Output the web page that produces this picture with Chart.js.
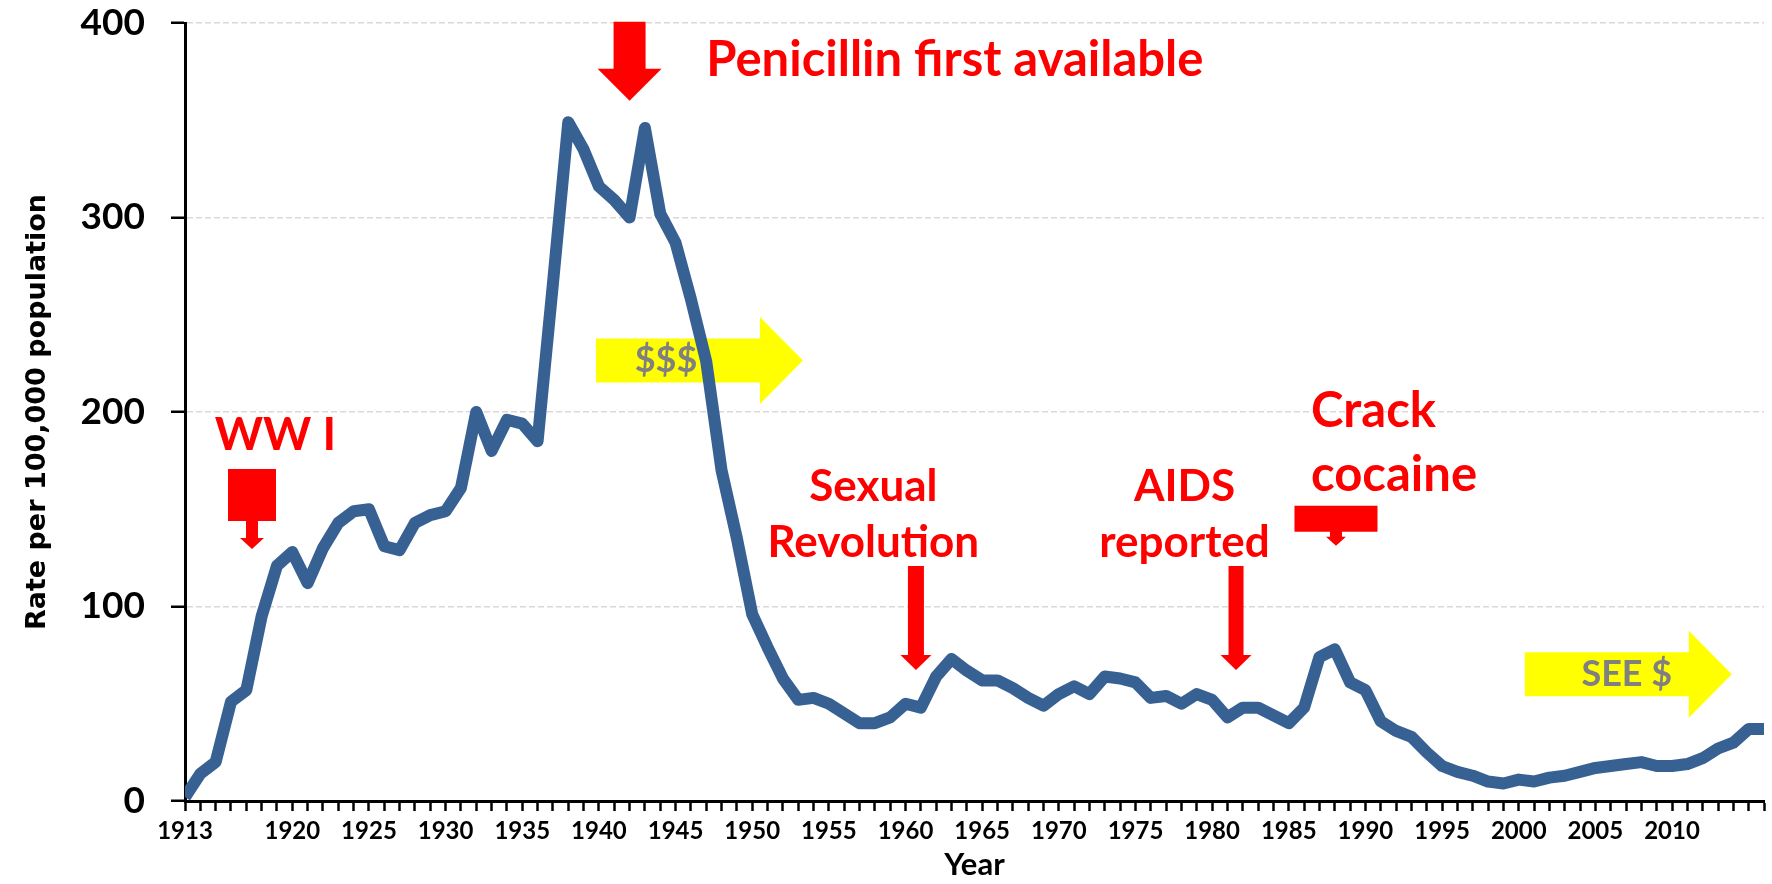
<!DOCTYPE html>
<html>
<head>
<meta charset="utf-8">
<title>Rate per 100,000 population, 1913-2016</title>
<script src="https://cdn.jsdelivr.net/npm/chart.js@4.4.1/dist/chart.umd.min.js"></script>
<style>
  html, body { margin: 0; padding: 0; background: #fff; }
  #wrap { width: 1772px; height: 884px; }
</style>
</head>
<body>
<div id="wrap"><canvas id="rateChart" width="1772" height="884"></canvas></div>
<script>
// one category per year, 1913..2016
const years = [];
for (let y = 1913; y <= 2016; y++) years.push(String(y));

// which years get a printed label on the x axis
const yearLabels = ['1913', '1920', '1925', '1930', '1935', '1940', '1945', '1950', '1955', '1960',
  '1965', '1970', '1975', '1980', '1985', '1990', '1995', '2000', '2005', '2010'];

// rate per 100,000
const rates = [
  2, 14, 20, 51, 57, 95, 121, 128, 112, 130,        // 1913-1922
  143, 149, 150, 131, 129, 143, 147, 149, 161, 200, // 1923-1932
  180, 196, 194, 185, 266, 349, 335, 316, 309, 300, // 1933-1942
  346, 302, 287, 258, 226, 170, 135, 96, 79, 63,    // 1943-1952
  52, 53, 50, 45, 40, 40, 43, 50, 48, 64,           // 1953-1962
  73, 67, 62, 62, 58, 53, 49, 55, 59, 55,           // 1963-1972
  64, 63, 61, 53, 54, 50, 55, 52, 43, 48,           // 1973-1982
  48, 44, 40, 48, 74, 78, 61, 57, 41, 36,           // 1983-1992
  33, 25, 18, 15, 13, 10, 9, 11, 10, 12,            // 1993-2002
  13, 15, 17, 18, 19, 20, 18, 18, 19, 22,           // 2003-2012
  27, 30, 37, 37                                    // 2013-2016
];

const yTicks = [0, 100, 200, 300, 400];

// annotations, anchored in data units (year, rate)
const notes = [
  { text: 'Penicillin first available', year: 1947, value: 372.6, size: 49, align: 'left' },
  { text: 'WW I', year: 1918.9, value: 180.6, size: 46, align: 'center' },
  { text: 'Sexual', year: 1957.9, value: 154.4, size: 44, align: 'center' },
  { text: 'Revolution', year: 1957.9, value: 125.4, size: 44, align: 'center' },
  { text: 'AIDS', year: 1978.2, value: 154.4, size: 44, align: 'center' },
  { text: 'reported', year: 1978.2, value: 125.4, size: 44, align: 'center' },
  { text: 'Crack', year: 1986.45, value: 192.5, size: 49, align: 'left' },
  { text: 'cocaine', year: 1986.45, value: 159.2, size: 49, align: 'left' }
];

const downArrows = [
  { year: 1942, value: 360, head: [64, 32], shaft: [32, 47] },
  { year: 1917.37, value: 129.5, head: [24, 11], shaft: [12, 17], body: [48, 52] },
  { year: 1960.68, value: 67.4, head: [31, 15], shaft: [16, 89] },
  { year: 1981.56, value: 67.4, head: [31, 15], shaft: [15, 89] },
  { year: 1988.08, value: 131.2, head: [20, 9], shaft: [12, 5], body: [83, 26] }
];

const rightArrows = [
  { year: 1953.31, value: 226.5, text: '$$$', textDx: -137 },
  { year: 2013.9, value: 65.2, text: 'SEE $', textDx: -105 }
];

function px(chart, year, value) {
  return {
    x: chart.scales.x.getPixelForValue(year - 1913),
    y: chart.scales.y.getPixelForValue(value)
  };
}

const yellowArrows = {
  id: 'yellowArrows',
  beforeDatasetsDraw(chart) {
    const ctx = chart.ctx;
    rightArrows.forEach(a => {
      const p = px(chart, a.year, a.value);
      const hl = 43, hh = 87, bl = 164, bh = 44;
      ctx.save();
      ctx.fillStyle = '#ffff00';
      ctx.beginPath();
      ctx.moveTo(p.x, p.y);
      ctx.lineTo(p.x - hl, p.y - hh / 2);
      ctx.lineTo(p.x - hl, p.y - bh / 2);
      ctx.lineTo(p.x - hl - bl, p.y - bh / 2);
      ctx.lineTo(p.x - hl - bl, p.y + bh / 2);
      ctx.lineTo(p.x - hl, p.y + bh / 2);
      ctx.lineTo(p.x - hl, p.y + hh / 2);
      ctx.closePath();
      ctx.fill();
      ctx.fillStyle = '#808080';
      ctx.font = 'bold 36px Lato';
      ctx.textAlign = 'center';
      ctx.textBaseline = 'middle';
      ctx.fillText(a.text, p.x + a.textDx, p.y);
      ctx.restore();
    });
  }
};

const redNotes = {
  id: 'redNotes',
  afterDatasetsDraw(chart) {
    const ctx = chart.ctx;
    ctx.save();
    ctx.fillStyle = '#ff0000';
    notes.forEach(n => {
      const p = px(chart, n.year, n.value);
      ctx.font = 'bold ' + n.size + 'px Lato';
      ctx.textAlign = n.align;
      ctx.textBaseline = 'alphabetic';
      ctx.fillText(n.text, p.x, p.y);
    });
    downArrows.forEach(a => {
      const p = px(chart, a.year, a.value);
      const [hw, hh] = a.head, [sw, sh] = a.shaft;
      const yHead = p.y - hh, yShaft = yHead - sh;
      ctx.beginPath();
      ctx.moveTo(p.x, p.y);
      ctx.lineTo(p.x - hw / 2, yHead);
      ctx.lineTo(p.x - sw / 2, yHead);
      ctx.lineTo(p.x - sw / 2, yShaft);
      if (a.body) {
        const [bw, bh] = a.body;
        ctx.lineTo(p.x - bw / 2, yShaft);
        ctx.lineTo(p.x - bw / 2, yShaft - bh);
        ctx.lineTo(p.x + bw / 2, yShaft - bh);
        ctx.lineTo(p.x + bw / 2, yShaft);
      }
      ctx.lineTo(p.x + sw / 2, yShaft);
      ctx.lineTo(p.x + sw / 2, yHead);
      ctx.lineTo(p.x + hw / 2, yHead);
      ctx.closePath();
      ctx.fill();
    });
    ctx.restore();
  }
};

new Chart(document.getElementById('rateChart'), {
  type: 'line',
  data: {
    labels: years,
    datasets: [{
      label: 'Rate',
      data: rates,
      borderColor: '#386193',
      borderWidth: 12,
      borderJoinStyle: 'round',
      pointRadius: 0,
      tension: 0,
      fill: false,
      clip: 0
    }]
  },
  options: {
    responsive: false,
    animation: false,
    devicePixelRatio: 1,
    layout: { padding: { top: 0, right: 8, bottom: 0, left: 0 } },
    plugins: { legend: { display: false }, tooltip: { enabled: false } },
    scales: {
      x: {
        grid: { drawOnChartArea: false, drawTicks: true, tickLength: 10, tickColor: '#000', tickWidth: 2.5, color: '#000' },
        border: { color: '#000', width: 3 },
        ticks: {
          autoSkip: false, maxRotation: 0, padding: 6, color: '#000',
          font: { family: 'Lato', weight: 'bold', size: 24 },
          callback: function (value) {
            const lab = this.getLabelForValue(value);
            return yearLabels.includes(lab) ? lab : '';
          }
        },
        title: {
          display: true, text: 'Year', color: '#000',
          font: { family: 'Lato', weight: 'bold', size: 31 },
          padding: { top: 0, bottom: 0 }
        },
        afterFit(scale) { scale.height = 83; }
      },
      y: {
        min: 0, max: 400,
        afterBuildTicks(scale) { scale.ticks = yTicks.map(v => ({ value: v })); },
        grid: {
          color: ctx => ctx.tick && ctx.tick.value === 0 ? 'rgba(0,0,0,0)' : '#d9d9d9',
          lineWidth: 1.5, tickLength: 14, tickColor: '#000', tickWidth: 2.5
        },
        border: { color: '#000', width: 3, dash: [6, 3] },
        ticks: {
          padding: 26, color: '#000',
          font: { family: 'Lato', weight: 'bold', size: 37 }
        },
        title: {
          display: true, text: 'Rate per 100,000 population', color: '#000',
          font: { family: 'DejaVu Sans', weight: 'bold', size: 27 },
          padding: { top: 22, bottom: 0 }
        },
        afterFit(scale) {
          scale.width = 185;
          scale.paddingTop = 23;
          scale.paddingBottom = 0;
        }
      }
    }
  },
  plugins: [yellowArrows, redNotes]
});
</script>
</body>
</html>
